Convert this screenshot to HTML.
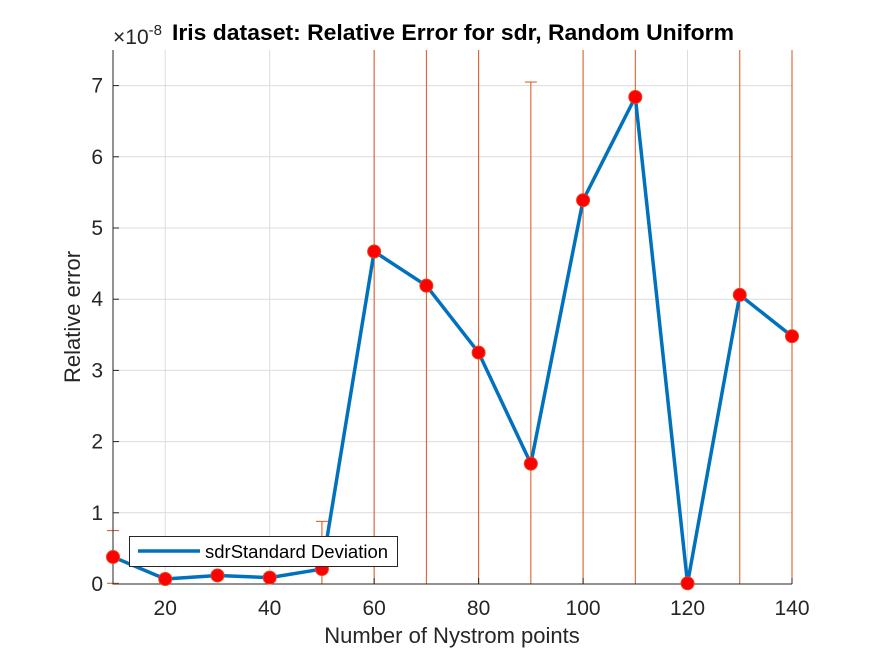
<!DOCTYPE html>
<html><head><meta charset="utf-8"><style>
body{margin:0;background:#fff;position:relative;}
svg{display:block;font-family:"Liberation Sans",Arial,sans-serif;}
</style></head><body>
<svg id="chart" width="875" height="656" viewBox="0 0 875 656"></svg>
<script>
const categories=[10,20,30,40,50,60,70,80,90,100,110,120,130,140];
const values=[0.38,0.07,0.12,0.09,0.21,4.67,4.19,3.25,1.69,5.39,6.84,0.01,4.06,3.48];
const errors=[0.37,0.05,0.05,0.05,0.67,9,9,9,5.36,9,9,0.01,9,9];
const xTicks=[20,40,60,80,100,120,140];
const yTicks=[0,1,2,3,4,5,6,7];
const L=113,R=792,T=50,B=584,xMin=10,xMax=140,yMin=0,yMax=7.5;
const xs=v=>L+(v-xMin)/(xMax-xMin)*(R-L);
const ys=v=>B-(v-yMin)/(yMax-yMin)*(B-T);
const svg=document.getElementById('chart');
const NS='http://www.w3.org/2000/svg';
function mk(tag,attrs,parent){const e=document.createElementNS(NS,tag);for(const k in attrs)e.setAttribute(k,attrs[k]);(parent||svg).appendChild(e);return e;}
xTicks.forEach(v=>{const g=mk('line',{x1:xs(v),x2:xs(v),y1:T,y2:B,stroke:'#dcdcdc','stroke-width':1});

});
yTicks.forEach(v=>{const g=mk('line',{x1:L,x2:R,y1:ys(v),y2:ys(v),stroke:'#dcdcdc','stroke-width':1});

});
categories.forEach((c,i)=>{
 const hi=values[i]+errors[i],lo=values[i]-errors[i];
 const y1=ys(Math.min(hi,yMax)),y2=ys(Math.max(lo,yMin));
 const x=xs(c);
 const gr=mk('g',{stroke:'#d95319','stroke-width':1});
 
 
 mk('line',{x1:x,x2:x,y1:y1,y2:y2},gr);
 if(hi<=yMax) mk('line',{x1:x-6,x2:x+6,y1:ys(hi),y2:ys(hi)},gr);
 if(lo>=yMin) mk('line',{x1:x-6,x2:x+6,y1:ys(lo),y2:ys(lo)},gr);
});
const ax=mk('path',{d:`M${L} ${T}V${B}H${R}`,fill:'none',stroke:'#262626','stroke-width':1});


xTicks.forEach(v=>{mk('line',{x1:xs(v),x2:xs(v),y1:B,y2:B-6,stroke:'#262626'});
const t=mk('text',{x:xs(v),y:B+31,'text-anchor':'middle','font-size':21,fill:'#262626'});t.textContent=v;

});
yTicks.forEach(v=>{mk('line',{x1:L,x2:L+6,y1:ys(v),y2:ys(v),stroke:'#262626'});
const t=mk('text',{x:L-10,y:ys(v)+7,'text-anchor':'end','font-size':21,fill:'#262626'});t.textContent=v;

});
const pts=categories.map((c,i)=>xs(c)+','+ys(values[i])).join(' ');
const pl=mk('polyline',{points:pts,fill:'none',stroke:'#0072bd','stroke-width':3.5,'stroke-linejoin':'round'});


categories.forEach((c,i)=>{const p=mk('circle',{cx:xs(c),cy:ys(values[i]),r:6.5,fill:'#ff0000',stroke:'#e8401a','stroke-width':1});

});
</script>
<svg style="position:absolute;left:0;top:0" width="875" height="656">
<text x="113" y="44" font-family="Liberation Sans,sans-serif" font-size="21" fill="#262626">×10<tspan dy="-9" font-size="15">-8</tspan></text>
<text x="172" y="40" textLength="562" lengthAdjust="spacingAndGlyphs" font-family="Liberation Sans,sans-serif" font-size="22" font-weight="bold" fill="#000">Iris dataset: Relative Error for sdr, Random Uniform</text>
<text x="452" y="643" text-anchor="middle" font-family="Liberation Sans,sans-serif" font-size="22" fill="#262626">Number of Nystrom points</text>
<text transform="translate(80,317) rotate(-90)" text-anchor="middle" font-family="Liberation Sans,sans-serif" font-size="22" fill="#262626">Relative error</text>
<g>
<rect x="129.5" y="536.5" width="268" height="30" fill="#fff" stroke="#262626" stroke-width="1"/>
<line x1="138" x2="200" y1="551" y2="551" stroke="#0072bd" stroke-width="3.5"/>
<text x="205" y="558" font-family="Liberation Sans,sans-serif" font-size="18.5" fill="#000">sdrStandard Deviation</text>
</g>
</svg>
</body></html>
